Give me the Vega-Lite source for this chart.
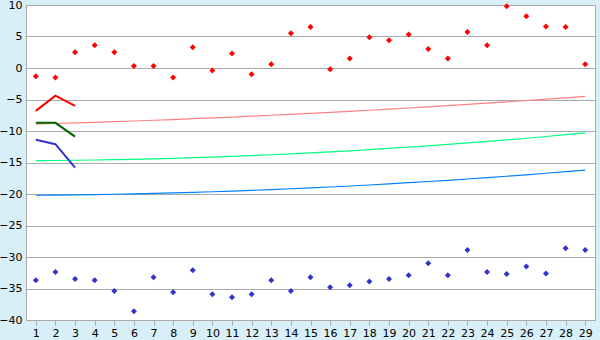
{
  "$schema": "https://vega.github.io/schema/vega-lite/v6.json",
  "width": 569,
  "height": 315,
  "autosize": {"type": "none"},
  "padding": {"left": 26, "top": 5, "right": 5, "bottom": 20},
  "background": "#d8eff7",
  "config": {
    "view": {"fill": "white", "stroke": "#aaaaaa"},
    "axis": {"labelFont": "DejaVu Sans", "labelFontSize": 11, "labelColor": "black", "domainColor": "#aaaaaa", "tickColor": "#aaaaaa", "gridColor": "#aaaaaa"}
  },
  "datasets": {
    "trend": [
      {"x":1,"y":-8.90,"s":"p"},{"x":2,"y":-8.81,"s":"p"},{"x":3,"y":-8.72,"s":"p"},{"x":4,"y":-8.62,"s":"p"},{"x":5,"y":-8.52,"s":"p"},{"x":6,"y":-8.41,"s":"p"},{"x":7,"y":-8.29,"s":"p"},{"x":8,"y":-8.18,"s":"p"},{"x":9,"y":-8.05,"s":"p"},{"x":10,"y":-7.92,"s":"p"},{"x":11,"y":-7.79,"s":"p"},{"x":12,"y":-7.65,"s":"p"},{"x":13,"y":-7.50,"s":"p"},{"x":14,"y":-7.36,"s":"p"},{"x":15,"y":-7.20,"s":"p"},{"x":16,"y":-7.04,"s":"p"},{"x":17,"y":-6.88,"s":"p"},{"x":18,"y":-6.71,"s":"p"},{"x":19,"y":-6.53,"s":"p"},{"x":20,"y":-6.35,"s":"p"},{"x":21,"y":-6.17,"s":"p"},{"x":22,"y":-5.98,"s":"p"},{"x":23,"y":-5.78,"s":"p"},{"x":24,"y":-5.58,"s":"p"},{"x":25,"y":-5.37,"s":"p"},{"x":26,"y":-5.16,"s":"p"},{"x":27,"y":-4.95,"s":"p"},{"x":28,"y":-4.73,"s":"p"},{"x":29,"y":-4.50,"s":"p"},
      {"x":1,"y":-14.70,"s":"g"},{"x":2,"y":-14.68,"s":"g"},{"x":3,"y":-14.64,"s":"g"},{"x":4,"y":-14.60,"s":"g"},{"x":5,"y":-14.55,"s":"g"},{"x":6,"y":-14.49,"s":"g"},{"x":7,"y":-14.41,"s":"g"},{"x":8,"y":-14.33,"s":"g"},{"x":9,"y":-14.24,"s":"g"},{"x":10,"y":-14.14,"s":"g"},{"x":11,"y":-14.03,"s":"g"},{"x":12,"y":-13.90,"s":"g"},{"x":13,"y":-13.77,"s":"g"},{"x":14,"y":-13.63,"s":"g"},{"x":15,"y":-13.48,"s":"g"},{"x":16,"y":-13.31,"s":"g"},{"x":17,"y":-13.14,"s":"g"},{"x":18,"y":-12.96,"s":"g"},{"x":19,"y":-12.77,"s":"g"},{"x":20,"y":-12.57,"s":"g"},{"x":21,"y":-12.35,"s":"g"},{"x":22,"y":-12.13,"s":"g"},{"x":23,"y":-11.90,"s":"g"},{"x":24,"y":-11.66,"s":"g"},{"x":25,"y":-11.41,"s":"g"},{"x":26,"y":-11.15,"s":"g"},{"x":27,"y":-10.87,"s":"g"},{"x":28,"y":-10.59,"s":"g"},{"x":29,"y":-10.30,"s":"g"},
      {"x":1,"y":-20.20,"s":"b"},{"x":2,"y":-20.17,"s":"b"},{"x":3,"y":-20.14,"s":"b"},{"x":4,"y":-20.09,"s":"b"},{"x":5,"y":-20.04,"s":"b"},{"x":6,"y":-19.97,"s":"b"},{"x":7,"y":-19.90,"s":"b"},{"x":8,"y":-19.83,"s":"b"},{"x":9,"y":-19.74,"s":"b"},{"x":10,"y":-19.64,"s":"b"},{"x":11,"y":-19.54,"s":"b"},{"x":12,"y":-19.42,"s":"b"},{"x":13,"y":-19.30,"s":"b"},{"x":14,"y":-19.17,"s":"b"},{"x":15,"y":-19.03,"s":"b"},{"x":16,"y":-18.89,"s":"b"},{"x":17,"y":-18.73,"s":"b"},{"x":18,"y":-18.57,"s":"b"},{"x":19,"y":-18.39,"s":"b"},{"x":20,"y":-18.21,"s":"b"},{"x":21,"y":-18.02,"s":"b"},{"x":22,"y":-17.83,"s":"b"},{"x":23,"y":-17.62,"s":"b"},{"x":24,"y":-17.40,"s":"b"},{"x":25,"y":-17.18,"s":"b"},{"x":26,"y":-16.95,"s":"b"},{"x":27,"y":-16.71,"s":"b"},{"x":28,"y":-16.46,"s":"b"},{"x":29,"y":-16.20,"s":"b"}
    ],
    "short": [
      {"x":1,"y":-6.8,"s":"r"},{"x":2,"y":-4.4,"s":"r"},{"x":3,"y":-6.0,"s":"r"},
      {"x":1,"y":-8.7,"s":"dg"},{"x":2,"y":-8.7,"s":"dg"},{"x":3,"y":-10.9,"s":"dg"},
      {"x":1,"y":-11.4,"s":"db"},{"x":2,"y":-12.1,"s":"db"},{"x":3,"y":-15.8,"s":"db"}
    ],
    "pts": [
      {"x":1,"y":-1.3,"s":"hi"},{"x":2,"y":-1.5,"s":"hi"},{"x":3,"y":2.5,"s":"hi"},{"x":4,"y":3.6,"s":"hi"},{"x":5,"y":2.5,"s":"hi"},{"x":6,"y":0.3,"s":"hi"},{"x":7,"y":0.3,"s":"hi"},{"x":8,"y":-1.5,"s":"hi"},{"x":9,"y":3.3,"s":"hi"},{"x":10,"y":-0.4,"s":"hi"},{"x":11,"y":2.3,"s":"hi"},{"x":12,"y":-1.0,"s":"hi"},{"x":13,"y":0.6,"s":"hi"},{"x":14,"y":5.5,"s":"hi"},{"x":15,"y":6.5,"s":"hi"},{"x":16,"y":-0.2,"s":"hi"},{"x":17,"y":1.5,"s":"hi"},{"x":18,"y":4.9,"s":"hi"},{"x":19,"y":4.4,"s":"hi"},{"x":20,"y":5.3,"s":"hi"},{"x":21,"y":3.0,"s":"hi"},{"x":22,"y":1.5,"s":"hi"},{"x":23,"y":5.7,"s":"hi"},{"x":24,"y":3.6,"s":"hi"},{"x":25,"y":9.8,"s":"hi"},{"x":26,"y":8.2,"s":"hi"},{"x":27,"y":6.6,"s":"hi"},{"x":28,"y":6.5,"s":"hi"},{"x":29,"y":0.6,"s":"hi"},
      {"x":1,"y":-33.7,"s":"lo"},{"x":2,"y":-32.4,"s":"lo"},{"x":3,"y":-33.5,"s":"lo"},{"x":4,"y":-33.7,"s":"lo"},{"x":5,"y":-35.4,"s":"lo"},{"x":6,"y":-38.6,"s":"lo"},{"x":7,"y":-33.2,"s":"lo"},{"x":8,"y":-35.6,"s":"lo"},{"x":9,"y":-32.1,"s":"lo"},{"x":10,"y":-35.9,"s":"lo"},{"x":11,"y":-36.4,"s":"lo"},{"x":12,"y":-35.9,"s":"lo"},{"x":13,"y":-33.7,"s":"lo"},{"x":14,"y":-35.4,"s":"lo"},{"x":15,"y":-33.2,"s":"lo"},{"x":16,"y":-34.8,"s":"lo"},{"x":17,"y":-34.5,"s":"lo"},{"x":18,"y":-33.9,"s":"lo"},{"x":19,"y":-33.5,"s":"lo"},{"x":20,"y":-32.9,"s":"lo"},{"x":21,"y":-31.0,"s":"lo"},{"x":22,"y":-32.9,"s":"lo"},{"x":23,"y":-28.9,"s":"lo"},{"x":24,"y":-32.4,"s":"lo"},{"x":25,"y":-32.7,"s":"lo"},{"x":26,"y":-31.5,"s":"lo"},{"x":27,"y":-32.6,"s":"lo"},{"x":28,"y":-28.6,"s":"lo"},{"x":29,"y":-28.9,"s":"lo"}
    ]
  },
  "encoding": {
    "x": {"field": "x", "type": "ordinal", "scale": {"type": "point", "padding": 0.5, "domain": [1,2,3,4,5,6,7,8,9,10,11,12,13,14,15,16,17,18,19,20,21,22,23,24,25,26,27,28,29]}, "axis": {"title": null, "labelAngle": 0, "tickSize": 5, "labelPadding": 2, "grid": false}},
    "y": {"field": "y", "type": "quantitative", "scale": {"domain": [-40, 10], "nice": false, "zero": false}, "axis": {"title": null, "values": [-40,-35,-30,-25,-20,-15,-10,-5,0,5,10], "ticks": false, "labelPadding": 4, "grid": true}}
  },
  "layer": [
    {
      "data": {"name": "trend"},
      "mark": {"type": "line", "strokeWidth": 1.2},
      "encoding": {
        "color": {"field": "s", "type": "nominal", "scale": {"domain": ["p","g","b"], "range": ["#ff8080","#00ff80","#0080ff"]}, "legend": null}
      }
    },
    {
      "data": {"name": "short"},
      "mark": {"type": "line", "strokeWidth": 2},
      "encoding": {
        "stroke": {"field": "s", "type": "nominal", "scale": {"domain": ["r","dg","db"], "range": ["#ff0000","#006600","#3333cc"]}, "legend": null}
      }
    },
    {
      "data": {"name": "pts"},
      "mark": {"type": "point", "shape": "diamond", "filled": true, "size": 36, "opacity": 1},
      "encoding": {
        "fill": {"field": "s", "type": "nominal", "scale": {"domain": ["hi","lo"], "range": ["#ff0000","#3333cc"]}, "legend": null}
      }
    }
  ]
}
